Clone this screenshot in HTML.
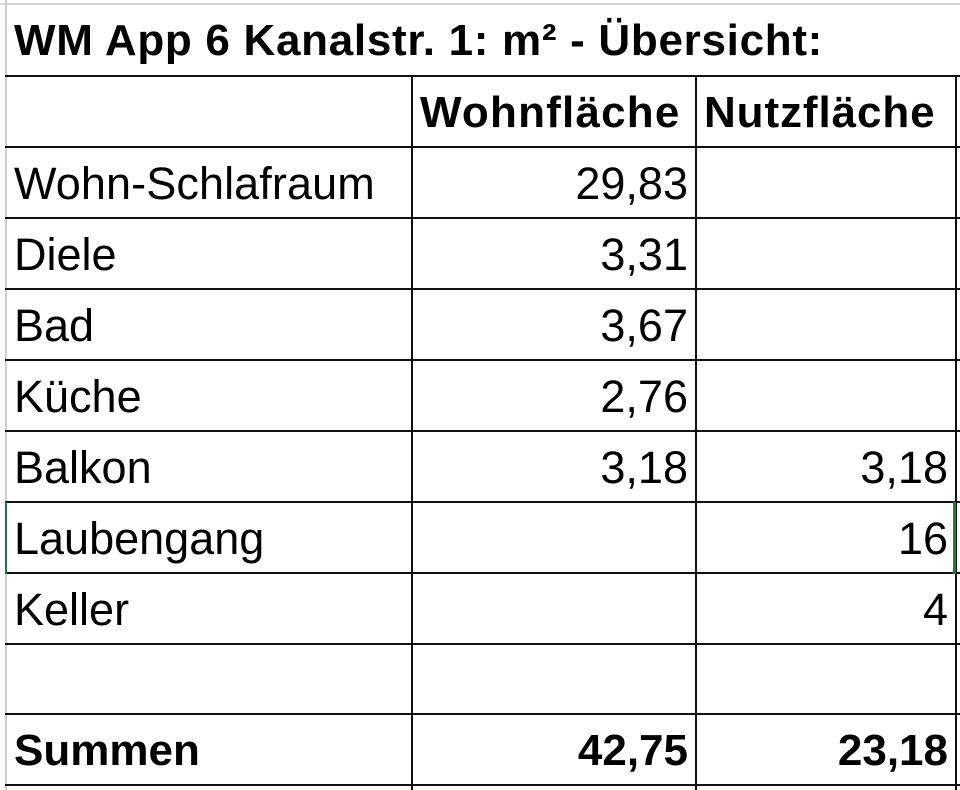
<!DOCTYPE html>
<html><head><meta charset="utf-8"><style>
body{margin:0;width:960px;height:790px;background:#fff;position:relative;overflow:hidden;font-family:"Liberation Sans",sans-serif;color:#000}
.h{position:absolute;left:5px;width:955px;height:2px;background:#111}
.v{position:absolute;width:2px;background:#111}
.t{position:absolute;font-size:45px;line-height:1;white-space:nowrap}
.b{font-weight:bold}
.r{text-align:right}
</style></head><body>
<div style="position:absolute;left:0;top:3px;width:960px;height:2px;background:#d8d8d8"></div>
<div style="position:absolute;left:5px;top:0;width:2px;height:790px;background:#d0d0d0"></div>
<div class="h" style="top:75px"></div>
<div class="h" style="top:146px"></div>
<div class="h" style="top:217px"></div>
<div class="h" style="top:288px"></div>
<div class="h" style="top:359px"></div>
<div class="h" style="top:430px"></div>
<div class="h" style="top:501px"></div>
<div class="h" style="top:572px"></div>
<div class="h" style="top:643px"></div>
<div class="h" style="top:713px"></div>
<div class="h" style="top:784px"></div>
<div class="v" style="left:411px;top:75px;height:715px"></div>
<div class="v" style="left:695px;top:75px;height:715px"></div>
<div class="v" style="left:955px;top:75px;height:715px"></div>
<div style="position:absolute;left:953px;top:502px;width:3px;height:72px;background:#1e7a45"></div>
<div style="position:absolute;left:5px;top:502px;width:2px;height:72px;background:#1e7a45"></div>

<div class="t b" style="left:14px;top:19px;font-size:44px;letter-spacing:0.7px">WM App 6 Kanalstr. 1: m² - Übersicht:</div>
<div class="t b" style="left:420px;top:91px;font-size:44px;letter-spacing:1.2px">Wohnfläche</div>
<div class="t b" style="left:704px;top:91px;font-size:44px;letter-spacing:0.9px">Nutzfläche</div>

<div class="t" style="left:14px;top:161px;letter-spacing:0.1px">Wohn-Schlafraum</div>
<div class="t" style="left:14px;top:232px">Diele</div>
<div class="t" style="left:14px;top:303px">Bad</div>
<div class="t" style="left:14px;top:374px">Küche</div>
<div class="t" style="left:14px;top:445px">Balkon</div>
<div class="t" style="left:14px;top:516px">Laubengang</div>
<div class="t" style="left:14px;top:587px">Keller</div>
<div class="t b" style="left:14px;top:729px;font-size:44px">Summen</div>

<div class="t r" style="right:272px;top:161px">29,83</div>
<div class="t r" style="right:272px;top:232px">3,31</div>
<div class="t r" style="right:272px;top:303px">3,67</div>
<div class="t r" style="right:272px;top:374px">2,76</div>
<div class="t r" style="right:272px;top:445px">3,18</div>
<div class="t r b" style="right:272px;top:729px;font-size:44px">42,75</div>

<div class="t r" style="right:12px;top:445px">3,18</div>
<div class="t r" style="right:12px;top:516px">16</div>
<div class="t r" style="right:12px;top:587px">4</div>
<div class="t r b" style="right:12px;top:729px;font-size:44px">23,18</div>
</body></html>
